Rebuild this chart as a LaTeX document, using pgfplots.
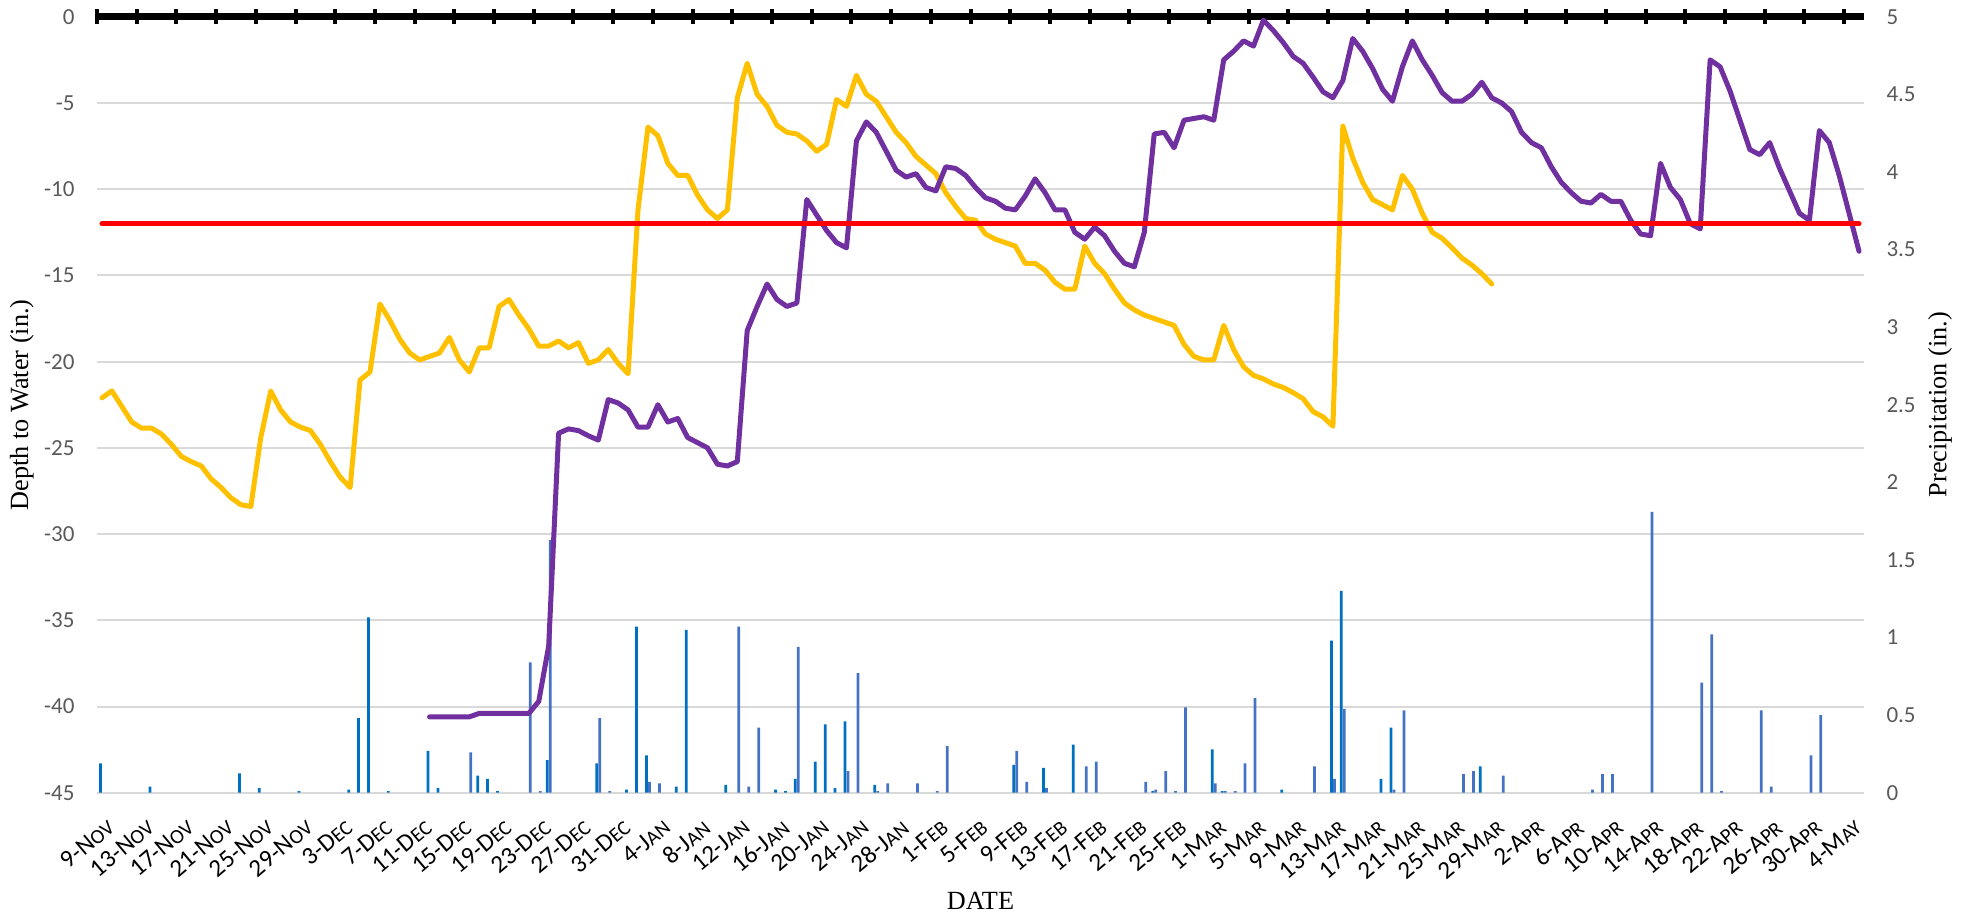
\documentclass[border=0pt]{standalone}
\usepackage{pgfplots}
\pgfplotsset{compat=1.18}
\usepackage{fontspec}
\setmainfont{Carlito}
\newfontfamily\seriffont{Liberation Serif}
\definecolor{cYellow}{HTML}{FFC000}
\definecolor{cPurple}{HTML}{7030A0}
\definecolor{cDark}{HTML}{0070C0}
\definecolor{cLight}{HTML}{4472C4}
\definecolor{cGrid}{HTML}{D9D9D9}
\definecolor{cTick}{HTML}{595959}
\newcommand{\dl}[3]{#1-#2{\fontsize{8.2}{9}\selectfont #3}}
\begin{document}
\begin{tikzpicture}
\useasboundingbox (-38.8pt,-49.2pt) rectangle (750.8pt,317.1pt);
\pgfplotsset{
  base/.style={width=706.8pt, height=310.4pt, scale only axis, at={(0,0)}, anchor=south west,
    xmin=-0.5, xmax=177.5, clip=false},
}
% ---------- axis A: grid, left ticks, date labels, titles
\begin{axis}[base, ymin=-45, ymax=0, ytick={-45,-40,...,0},
  ymajorgrids, grid style={cGrid, line width=0.8pt},
  axis line style={draw=none}, major tick length=0pt,
  xtick={0,4,...,176},
  xticklabels={\dl{9}{N}{OV},\dl{13}{N}{OV},\dl{17}{N}{OV},\dl{21}{N}{OV},\dl{25}{N}{OV},\dl{29}{N}{OV},
    \dl{3}{D}{EC},\dl{7}{D}{EC},\dl{11}{D}{EC},\dl{15}{D}{EC},\dl{19}{D}{EC},\dl{23}{D}{EC},\dl{27}{D}{EC},\dl{31}{D}{EC},
    \dl{4}{J}{AN},\dl{8}{J}{AN},\dl{12}{J}{AN},\dl{16}{J}{AN},\dl{20}{J}{AN},\dl{24}{J}{AN},\dl{28}{J}{AN},
    \dl{1}{F}{EB},\dl{5}{F}{EB},\dl{9}{F}{EB},\dl{13}{F}{EB},\dl{17}{F}{EB},\dl{21}{F}{EB},\dl{25}{F}{EB},
    \dl{1}{M}{AR},\dl{5}{M}{AR},\dl{9}{M}{AR},\dl{13}{M}{AR},\dl{17}{M}{AR},\dl{21}{M}{AR},\dl{25}{M}{AR},\dl{29}{M}{AR},
    \dl{2}{A}{PR},\dl{6}{A}{PR},\dl{10}{A}{PR},\dl{14}{A}{PR},\dl{18}{A}{PR},\dl{22}{A}{PR},\dl{26}{A}{PR},\dl{30}{A}{PR},
    \dl{4}{M}{AY}},
  xticklabel style={xshift=1.4pt, yshift=-9.8pt, rotate=40, anchor=north east, inner sep=0pt,
    font=\fontsize{10}{10}\selectfont, text=black},
  yticklabel style={font=\fontsize{9.2}{10}\selectfont, text=cTick, inner sep=0pt},
  yticklabel shift=8.8pt,
  /pgf/number format/assume math mode=true,
  ylabel={\seriffont Depth to Water (in.)},
  every axis y label/.style={at={(axis description cs:-0.0425,0.5)}, rotate=90, anchor=center,
    font=\fontsize{10.5}{12}\selectfont},
  xlabel={\seriffont DATE},
  every axis x label/.style={at={(axis description cs:0.5,-0.139)}, anchor=center,
    font=\fontsize{10.5}{12}\selectfont},
]
\end{axis}
% ---------- axis B: precipitation bars (right axis)
\begin{axis}[base, ymin=0, ymax=5, ytick={0,0.5,...,5},
  axis y line*=right, axis x line=none, axis line style={draw=none}, major tick length=0pt,
  yticklabel style={font=\fontsize{9.2}{10}\selectfont, text=cTick, inner sep=0pt, anchor=west},
  yticklabel shift=8.8pt,
  /pgf/number format/assume math mode=true,
  ylabel={\seriffont Precipitation (in.)},
  every axis y label/.style={at={(axis description cs:1.043,0.5)}, rotate=90, anchor=center,
    font=\fontsize{10.5}{12}\selectfont},
]
\addplot[ybar, bar width=1.1pt, bar shift=-0.6pt, fill=cDark, draw=none] coordinates {
(0,0.19)(5,0.04)(14,0.125)(16,0.03)(20,0.01)(25,0.02)(26,0.48)(27,1.13)(29,0.01)(33,0.27)(34,0.03)
(38,0.11)(39,0.09)(40,0.01)(45,0.21)(50,0.19)(53,0.02)(54,1.07)(55,0.24)(58,0.04)(59,1.05)(63,0.05)
(68,0.02)(69,0.01)(70,0.09)(72,0.2)(73,0.44)(74,0.03)(75,0.46)(78,0.05)(92,0.18)(95,0.16)(98,0.31)
(106,0.01)(112,0.28)(113,0.01)(119,0.02)(124,0.98)(125,1.3)(129,0.09)(130,0.42)(139,0.17)};
\addplot[ybar, bar width=1.1pt, bar shift=0.6pt, fill=cLight, draw=none] coordinates {
(37,0.26)(43,0.84)(44,0.01)(45,1.63)(50,0.48)(51,0.01)(55,0.07)(56,0.06)(64,1.07)(65,0.04)(66,0.42)
(70,0.94)(75,0.14)(76,0.77)(78,0.01)(79,0.06)(82,0.06)(84,0.01)(85,0.3)(92,0.27)(93,0.07)(95,0.03)
(99,0.17)(100,0.2)(105,0.07)(106,0.02)(107,0.14)(108,0.01)(109,0.55)(112,0.06)(113,0.01)(114,0.01)
(115,0.19)(116,0.61)(122,0.17)(124,0.09)(125,0.54)(130,0.02)(131,0.53)(137,0.12)(138,0.14)(141,0.11)
(150,0.02)(151,0.12)(152,0.12)(156,1.81)(161,0.71)(162,1.02)(163,0.01)(167,0.53)(168,0.04)(172,0.24)(173,0.5)};
\end{axis}
% ---------- axis C: depth lines + top axis
\begin{axis}[base, ymin=-45, ymax=0,
  axis x line*=top, axis y line=none, ytick=\empty,
  xtick={-0.5,3.5,...,175.5}, xticklabels={},
  tick align=center, major tick length=6pt,
  x axis line style={black, line width=2.8pt},
  xtick style={black, line width=1.6pt},
]
\addplot[cYellow, line width=2pt, line join=round, line cap=round] coordinates {
(0,-22.1)(1,-21.7)(2,-22.6)(3,-23.5)(4,-23.86)(5,-23.86)(6,-24.2)(7,-24.8)(8,-25.5)(9,-25.8)(10,-26.05)
(11,-26.8)(12,-27.3)(13,-27.9)(14,-28.3)(15,-28.4)(16,-24.4)(17,-21.7)(18,-22.8)(19,-23.5)(20,-23.8)
(21,-24.0)(22,-24.8)(23,-25.8)(24,-26.7)(25,-27.3)(26,-21.06)(27,-20.6)(28,-16.66)(29,-17.6)(30,-18.7)
(31,-19.5)(32,-19.9)(33,-19.7)(34,-19.5)(35,-18.6)(36,-19.9)(37,-20.6)(38,-19.2)(39,-19.2)(40,-16.8)
(41,-16.4)(42,-17.3)(43,-18.1)(44,-19.1)(45,-19.1)(46,-18.8)(47,-19.2)(48,-18.9)(49,-20.1)(50,-19.9)
(51,-19.3)(52,-20.1)(53,-20.7)(54,-11.2)(55,-6.4)(56,-6.9)(57,-8.5)(58,-9.2)(59,-9.2)(60,-10.35)
(61,-11.2)(62,-11.7)(63,-11.2)(64,-4.7)(65,-2.7)(66,-4.5)(67,-5.2)(68,-6.3)(69,-6.7)(70,-6.8)
(71,-7.2)(72,-7.8)(73,-7.4)(74,-4.8)(75,-5.2)(76,-3.4)(77,-4.5)(78,-4.9)(79,-5.8)(80,-6.7)
(81,-7.3)(82,-8.1)(83,-8.6)(84,-9.1)(85,-10.2)(86,-11.0)(87,-11.7)(88,-11.8)(89,-12.6)(90,-12.9)
(91,-13.1)(92,-13.3)(93,-14.3)(94,-14.3)(95,-14.7)(96,-15.4)(97,-15.8)(98,-15.8)(99,-13.3)(100,-14.3)
(101,-14.9)(102,-15.8)(103,-16.6)(104,-17.0)(105,-17.3)(106,-17.5)(107,-17.7)(108,-17.9)(109,-19.0)(110,-19.7)
(111,-19.9)(112,-19.9)(113,-17.9)(114,-19.3)(115,-20.3)(116,-20.8)(117,-21.0)(118,-21.3)(119,-21.5)(120,-21.8)
(121,-22.15)(122,-22.9)(123,-23.2)(124,-23.75)(125,-6.34)(126,-8.2)(127,-9.6)(128,-10.6)(129,-10.9)(130,-11.2)
(131,-9.2)(132,-10.0)(133,-11.4)(134,-12.5)(135,-12.85)(136,-13.4)(137,-14.0)(138,-14.4)(139,-14.9)(140,-15.5)};
\addplot[cPurple, line width=2pt, line join=round, line cap=round] coordinates {
(33,-40.6)(34,-40.6)(35,-40.6)(36,-40.6)(37,-40.6)(38,-40.4)(39,-40.4)(40,-40.4)(41,-40.4)(42,-40.4)
(43,-40.4)(44,-39.7)(45,-36.5)(46,-24.15)(47,-23.9)(48,-24.0)(49,-24.3)(50,-24.55)(51,-22.2)(52,-22.4)
(53,-22.8)(54,-23.8)(55,-23.8)(56,-22.5)(57,-23.5)(58,-23.3)(59,-24.4)(60,-24.7)(61,-25.0)(62,-25.95)
(63,-26.05)(64,-25.8)(65,-18.2)(66,-16.8)(67,-15.5)(68,-16.4)(69,-16.8)(70,-16.6)(71,-10.6)(72,-11.5)
(73,-12.4)(74,-13.1)(75,-13.4)(76,-7.2)(77,-6.1)(78,-6.7)(79,-7.8)(80,-8.9)(81,-9.3)(82,-9.1)
(83,-9.9)(84,-10.1)(85,-8.7)(86,-8.8)(87,-9.2)(88,-9.9)(89,-10.5)(90,-10.7)(91,-11.1)(92,-11.2)
(93,-10.4)(94,-9.4)(95,-10.2)(96,-11.2)(97,-11.2)(98,-12.5)(99,-12.9)(100,-12.2)(101,-12.7)(102,-13.6)
(103,-14.3)(104,-14.5)(105,-12.5)(106,-6.8)(107,-6.7)(108,-7.6)(109,-6.0)(110,-5.9)(111,-5.8)(112,-6.0)
(113,-2.5)(114,-2.0)(115,-1.4)(116,-1.7)(117,-0.2)(118,-0.8)(119,-1.5)(120,-2.3)(121,-2.7)(122,-3.5)
(123,-4.35)(124,-4.7)(125,-3.7)(126,-1.26)(127,-2.0)(128,-3.0)(129,-4.2)(130,-4.9)(131,-2.9)(132,-1.4)
(133,-2.5)(134,-3.4)(135,-4.4)(136,-4.9)(137,-4.9)(138,-4.5)(139,-3.8)(140,-4.7)(141,-5.0)(142,-5.5)
(143,-6.7)(144,-7.3)(145,-7.6)(146,-8.7)(147,-9.6)(148,-10.2)(149,-10.7)(150,-10.8)(151,-10.3)(152,-10.7)
(153,-10.7)(154,-11.8)(155,-12.6)(156,-12.7)(157,-8.5)(158,-9.9)(159,-10.6)(160,-12.0)(161,-12.3)(162,-2.5)
(163,-2.9)(164,-4.3)(165,-6.0)(166,-7.7)(167,-8.0)(168,-7.3)(169,-8.8)(170,-10.1)(171,-11.4)(172,-11.8)
(173,-6.6)(174,-7.3)(175,-9.2)(176,-11.4)(177,-13.6)};
\addplot[red, line width=2pt, line cap=round] coordinates {(0,-12) (177,-12)};
\end{axis}
\end{tikzpicture}
\end{document}
